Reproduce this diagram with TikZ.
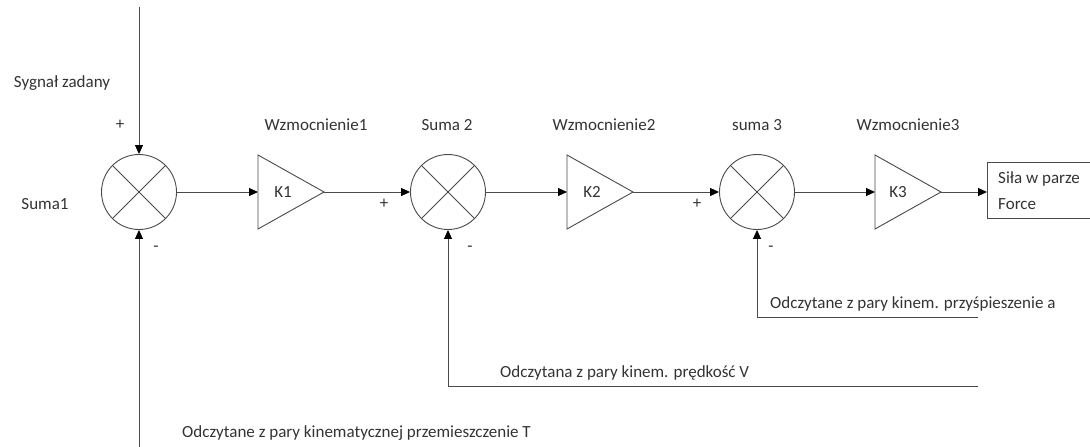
\documentclass[tikz,border=0pt]{standalone}
\usepackage{fontspec}
\setmainfont{Carlito}
\usetikzlibrary{arrows.meta}
\definecolor{ln}{HTML}{4A4A4A}
\definecolor{tx}{HTML}{333333}
\tikzset{
  wire/.style={draw=ln, line width=0.9pt},
  conn/.style={wire, -{Triangle[length=9pt,width=8pt,color=black]}},
  sumc/.style={circle, draw=ln, line width=0.9pt, minimum size=75pt, inner sep=0pt},
  ampline/.style={draw=ln, line width=0.9pt, line join=miter},
  lbl/.style={font=\fontsize{17}{20}\selectfont, text=tx, inner sep=0pt},
}
\begin{document}
\begin{tikzpicture}[x=1pt,y=-1pt]
\useasboundingbox (0,0) rectangle (1090,447);
% summing junctions
\node[sumc] (s1) at (139,192) {};
\node[sumc] (s2) at (448,192) {};
\node[sumc] (s3) at (757,192) {};
\foreach \s in {s1,s2,s3}{
  \draw[wire] (\s.north east) -- (\s.south west);
  \draw[wire] (\s.north west) -- (\s.south east);
}
% gains
\coordinate (k1in) at (258,192); \coordinate (k1out) at (324,192);
\coordinate (k2in) at (567,192); \coordinate (k2out) at (633,192);
\coordinate (k3in) at (875,192); \coordinate (k3out) at (941,192);
\draw[ampline] (258,155) -- (k1out) -- (258,229) -- cycle;
\draw[ampline] (567,155) -- (k2out) -- (567,229) -- cycle;
\draw[ampline] (875,155) -- (k3out) -- (875,229) -- cycle;
\node[lbl] (k1) at (283,192) {K1};
\node[lbl] (k2) at (592,192) {K2};
\node[lbl] (k3) at (898,192) {K3};
% output box
\node[draw=ln, line width=0.9pt, minimum width=130pt, minimum height=56pt, anchor=west, inner sep=0pt] (out) at (987,190) {};
\node[lbl, anchor=west] (outa) at (998,179) {Siła w parze};
\node[lbl, anchor=west] (outb) at (998,204) {Force};
% forward connectors
\draw[conn] (s1.east) -- (k1in);
\draw[conn] (k1out) -- (s2.west);
\draw[conn] (s2.east) -- (k2in);
\draw[conn] (k2out) -- (s3.west);
\draw[conn] (s3.east) -- (k3in);
\draw[conn] (k3out) -- (out.west |- k3out);
% inputs and feedbacks
\coordinate (top) at (139,7);
\coordinate (bot) at (139,450);
\coordinate (fb2) at (978,386);
\coordinate (fb3) at (978,317);
\draw[conn] (top) -- (s1.north);
\draw[conn] (bot) -- (s1.south);
\draw[conn] (fb2) -| (s2.south);
\draw[conn] (fb3) -| (s3.south);
% labels
\node[lbl] (lsyg) at (62,83) {Sygnał zadany};
\node[lbl] (lp1) at (120,125) {+};
\node[lbl] (lsum1) at (45,204) {Suma1};
\node[lbl] (lm1) at (156,249) {-};
\node[lbl] (lw1) at (316,125) {Wzmocnienie1};
\node[lbl] (lsum2) at (447,125) {Suma 2};
\node[lbl] (lw2) at (604,125) {Wzmocnienie2};
\node[lbl] (lsum3) at (757,125) {suma 3};
\node[lbl] (lw3) at (908,125) {Wzmocnienie3};
\node[lbl] (lp2) at (384,204) {+};
\node[lbl] (lm2) at (470,249) {-};
\node[lbl] (lp3) at (697,204) {+};
\node[lbl] (lm3) at (771,249) {-};
\node[lbl, anchor=west] (la) at (770,304) {Odczytane z pary kinem. przyśpieszenie a};
\node[lbl, anchor=west] (lv) at (500,373) {Odczytana z pary kinem. prędkość V};
\node[lbl, anchor=west] (lt) at (182,433) {Odczytane z pary kinematycznej przemieszczenie T};
\end{tikzpicture}
\end{document}
